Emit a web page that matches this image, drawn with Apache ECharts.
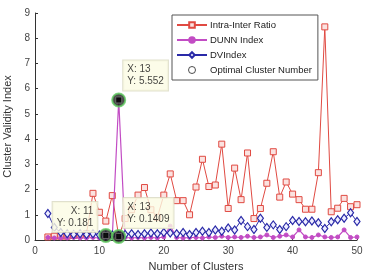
<!DOCTYPE html>
<html><head><meta charset="utf-8">
<script src="https://cdn.jsdelivr.net/npm/echarts@6/dist/echarts.min.js"></script>
<style>html,body{margin:0;padding:0;background:#fff}#c{width:375px;height:274px}</style>
</head><body><div id="c"></div>
<script>
var clusters = [2,3,4,5,6,7,8,9,10,11,12,13,14,15,16,17,18,19,20,21,22,23,24,25,26,27,28,29,30,31,32,33,34,35,36,37,38,39,40,41,42,43,44,45,46,47,48,49,50];
var intraInter = [0.12,0.15,0.15,0.15,0.18,0.2,0.25,1.85,1.1,0.75,1.76,0.1409,0.85,1.2,1.78,2.08,1.2,0.9,1.78,2.62,1.56,1.56,1.0,2.1,3.2,2.12,2.18,3.8,1.25,2.85,1.6,3.45,0.85,1.25,2.25,3.5,1.7,2.3,1.82,1.6,1.22,1.22,2.67,8.45,1.12,1.26,1.65,1.32,1.4];
var dunn = [0.1,0.08,0.08,0.08,0.1,0.08,0.08,0.1,0.08,0.1,0.12,5.552,0.1,0.08,0.1,0.08,0.1,0.08,0.12,0.55,0.1,0.08,0.1,0.1,0.08,0.12,0.1,0.15,0.1,0.12,0.1,0.15,0.1,0.12,0.2,0.1,0.15,0.2,0.12,0.4,0.12,0.1,0.2,0.12,0.1,0.12,0.4,0.1,0.12];
var dvIndex = [1.05,0.5,0.3,0.25,0.22,0.25,0.22,0.25,0.2,0.181,0.2,0.18,0.22,0.25,0.22,0.25,0.28,0.25,0.3,0.28,0.25,0.3,0.22,0.3,0.35,0.3,0.4,0.35,0.48,0.4,0.77,0.53,0.42,0.86,0.5,0.6,0.42,0.53,0.77,0.73,0.72,0.75,0.68,0.46,0.72,0.8,0.86,1.08,0.73];
var optX = [11, 13, 13];
var optY = [0.181, 0.1409, 5.552];
var optYText = ['0.181', '0.1409', '5.552'];
var xTicks = [0,10,20,30,40,50];
var yTicks = [0,1,2,3,4,5,6,7,8,9];

function pairs(ys){ return clusters.map(function(x,i){ return [x, ys[i]]; }); }

var font = 'Liberation Sans, Arial, sans-serif';
var tipStyle = {
  show: true, fontFamily: font, fontSize: 10, lineHeight: 12, color: '#111',
  backgroundColor: '#fbfbe4', borderColor: '#d8d8c0', borderWidth: 1, padding: [3, 4],
  align: 'left', verticalAlign: 'top'
};
var tipPos = [[-1, -26, 'right'], [12, -31, 'left'], [12, -32, 'left']];
var optData = optX.map(function(x, i){
  var p = tipPos[i];
  return {
    value: [x, optY[i]],
    label: Object.assign({}, tipStyle, {
      position: [p[0], p[1]], align: p[2],
      formatter: 'X: ' + x + '\nY: ' + optYText[i]
    })
  };
});

var chart = echarts.init(document.getElementById('c'), null, {renderer: 'canvas'});
chart.setOption({
  animation: false,
  grid: {left: 35, right: 18, top: 13, bottom: 34, containLabel: false, outerBoundsMode: 'none'},
  textStyle: {fontFamily: font},
  legend: {
    orient: 'vertical', left: 172, top: 15, padding: [5, 6, 5, 4],
    itemWidth: 30, itemHeight: 7, itemGap: 5,
    borderColor: '#555', borderWidth: 1, backgroundColor: '#fff',
    textStyle: {fontFamily: font, fontSize: 9.5, color: '#222', padding: [0,0,0,-2]},
    data: [
      {name: 'Intra-Inter Ratio'},
      {name: 'DUNN Index'},
      {name: 'DVIndex'},
      {name: 'Optimal Cluster Number', icon: 'circle', itemStyle: {color: '#fff', borderColor: '#222', borderWidth: 1}}
    ]
  },
  xAxis: {
    type: 'value', min: xTicks[0], max: xTicks[xTicks.length-1], interval: 10,
    name: 'Number of Clusters', nameLocation: 'middle', nameGap: 21,
    nameTextStyle: {fontFamily: font, fontSize: 11, color: '#333'},
    axisLine: {show: true, onZero: false, lineStyle: {color: '#333', width: 1}},
    axisTick: {show: true, inside: true, length: 3, lineStyle: {color: '#333'}},
    axisLabel: {fontFamily: font, fontSize: 10, color: '#444', margin: 6},
    splitLine: {show: false}
  },
  yAxis: {
    type: 'value', min: yTicks[0], max: yTicks[yTicks.length-1], interval: 1,
    name: 'Cluster Validity Index', nameLocation: 'middle', nameGap: 15,
    nameTextStyle: {fontFamily: font, fontSize: 11, color: '#333'},
    axisLine: {show: true, lineStyle: {color: '#333', width: 1}},
    axisTick: {show: true, inside: true, length: 3, lineStyle: {color: '#333'}},
    axisLabel: {fontFamily: font, fontSize: 10, color: '#444', margin: 5},
    splitLine: {show: false}
  },
  series: [
    {
      name: 'Intra-Inter Ratio', type: 'line', data: pairs(intraInter),
      symbol: 'rect', symbolSize: 6,
      lineStyle: {color: '#e04a42', width: 1},
      itemStyle: {color: '#fbe2e0', borderColor: '#e04a42', borderWidth: 1},
      z: 3
    },
    {
      name: 'DUNN Index', type: 'line', data: pairs(dunn),
      symbol: 'circle', symbolSize: 4,
      lineStyle: {color: '#c24cc4', width: 1.2},
      itemStyle: {color: '#c24cc4', borderColor: '#c24cc4', borderWidth: 1},
      z: 4
    },
    {
      name: 'DVIndex', type: 'line', data: pairs(dvIndex),
      symbol: 'diamond', symbolSize: [6, 8],
      lineStyle: {color: '#2a2aa8', width: 1},
      itemStyle: {color: '#eef', borderColor: '#2a2aa8', borderWidth: 1.2},
      z: 5
    },
    {
      name: 'Optimal Cluster Number', type: 'scatter', data: optData,
      symbol: 'circle', symbolSize: 13,
      itemStyle: {color: '#1c1c1c', borderColor: '#5ec85e', borderWidth: 2},
      z: 10
    },
    {
      name: 'tipMarker', type: 'scatter',
      data: optX.map(function(x, i){ return [x, optY[i]]; }),
      symbol: 'rect', symbolSize: 6, silent: true,
      itemStyle: {color: '#000', borderColor: '#777', borderWidth: 1},
      z: 11
    }
  ]
});
</script></body></html>
